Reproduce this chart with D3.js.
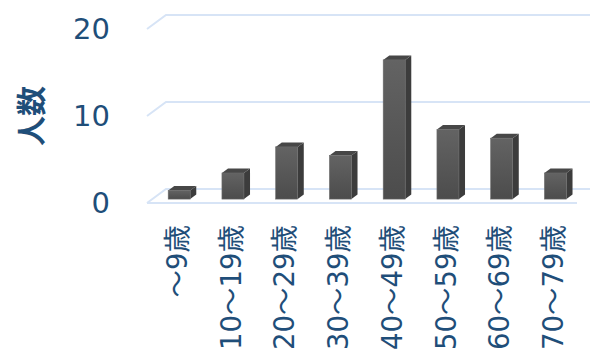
<!DOCTYPE html>
<html><head><meta charset="utf-8">
<script src="https://cdn.jsdelivr.net/npm/d3@7"></script>
<style>html,body{margin:0;padding:0;background:#fff;overflow:hidden}</style>
</head><body>
<svg id="c" width="590" height="358"></svg>
<script>
const categories = ["～9歳","10～19歳","20～29歳","30～39歳","40～49歳","50～59歳","60～69歳","70～79歳"];
const values = [1,3,6,5,16,8,7,3];
const yTicks = [0,10,20];
const yTitle = "人数";

const svg = d3.select("#c");
const DX = 19, DY = -14;
const x = d3.scaleBand().domain(categories).range([147,577]);
const y = d3.scaleLinear().domain([0,20]).range([203,29]);
const textColor = "#1f4e79";
const font = "'DejaVu Sans', 'Noto Sans CJK JP', sans-serif";

const defs = svg.append("defs");
const g1 = defs.append("linearGradient").attr("id","front").attr("x1",0).attr("y1",0).attr("x2",0).attr("y2",1);
g1.append("stop").attr("offset","0%").attr("stop-color","#636363");
g1.append("stop").attr("offset","100%").attr("stop-color","#4c4c4c");

const grid = svg.append("g");
yTicks.forEach(t => {
  grid.append("polyline")
    .attr("points", `${x.range()[0]},${y(t)} ${x.range()[0]+DX},${y(t)+DY} ${x.range()[1]+DX},${y(t)+DY}`)
    .attr("fill","none").attr("stroke","#d7e4f6").attr("stroke-width",2);
});
grid.append("line").attr("x1",x.range()[0]).attr("x2",x.range()[1])
  .attr("y1",y(0)).attr("y2",y(0)).attr("stroke","#d7e4f6").attr("stroke-width",2);

const f0 = 0.28, f1 = 0.6, bw = 22;
const bars = svg.append("g");
categories.forEach((c,i) => {
  const v = values[i];
  const cx = x(c) + x.bandwidth()/2;
  const xl = cx - bw/2 + f0*DX, xr = xl + bw;
  const yt = y(v) + f0*DY, yb = y(0) + f0*DY;
  const ddx = (f1-f0)*DX, ddy = (f1-f0)*DY;
  bars.append("polygon")
    .attr("points", `${xr},${yt} ${xr+ddx},${yt+ddy} ${xr+ddx},${yb+ddy} ${xr},${yb}`)
    .attr("fill","#3c3c3c");
  bars.append("polygon")
    .attr("points", `${xl},${yt} ${xl+ddx},${yt+ddy} ${xr+ddx},${yt+ddy} ${xr},${yt}`)
    .attr("fill","#474747");
  bars.append("rect").attr("x",xl).attr("y",yt).attr("width",bw).attr("height",yb-yt)
    .attr("fill","url(#front)").attr("stroke","#6a6a6a").attr("stroke-width",0.6);
});

svg.append("g").selectAll("text").data(yTicks).join("text")
  .attr("x",110).attr("y",d=>y(d)).attr("text-anchor","end")
  .attr("dominant-baseline","central")
  .attr("font-family",font).attr("font-size",29).attr("fill",textColor)
  .text(d=>d);

svg.append("text").attr("transform","translate(29,116) rotate(-90)")
  .attr("text-anchor","middle").attr("dominant-baseline","central")
  .attr("font-family","'Noto Sans CJK JP', sans-serif").attr("font-size",30).attr("font-weight","bold")
  .attr("fill",textColor).text(yTitle);

svg.append("g").selectAll("text").data(categories).join("text")
  .attr("transform",d=>`translate(${x(d)+x.bandwidth()/2+3},225) rotate(-90)`)
  .attr("text-anchor","end").attr("dominant-baseline","central")
  .attr("font-family",font).attr("font-size",27.5).attr("fill",textColor)
  .text(d=>d);
</script>
</body></html>
